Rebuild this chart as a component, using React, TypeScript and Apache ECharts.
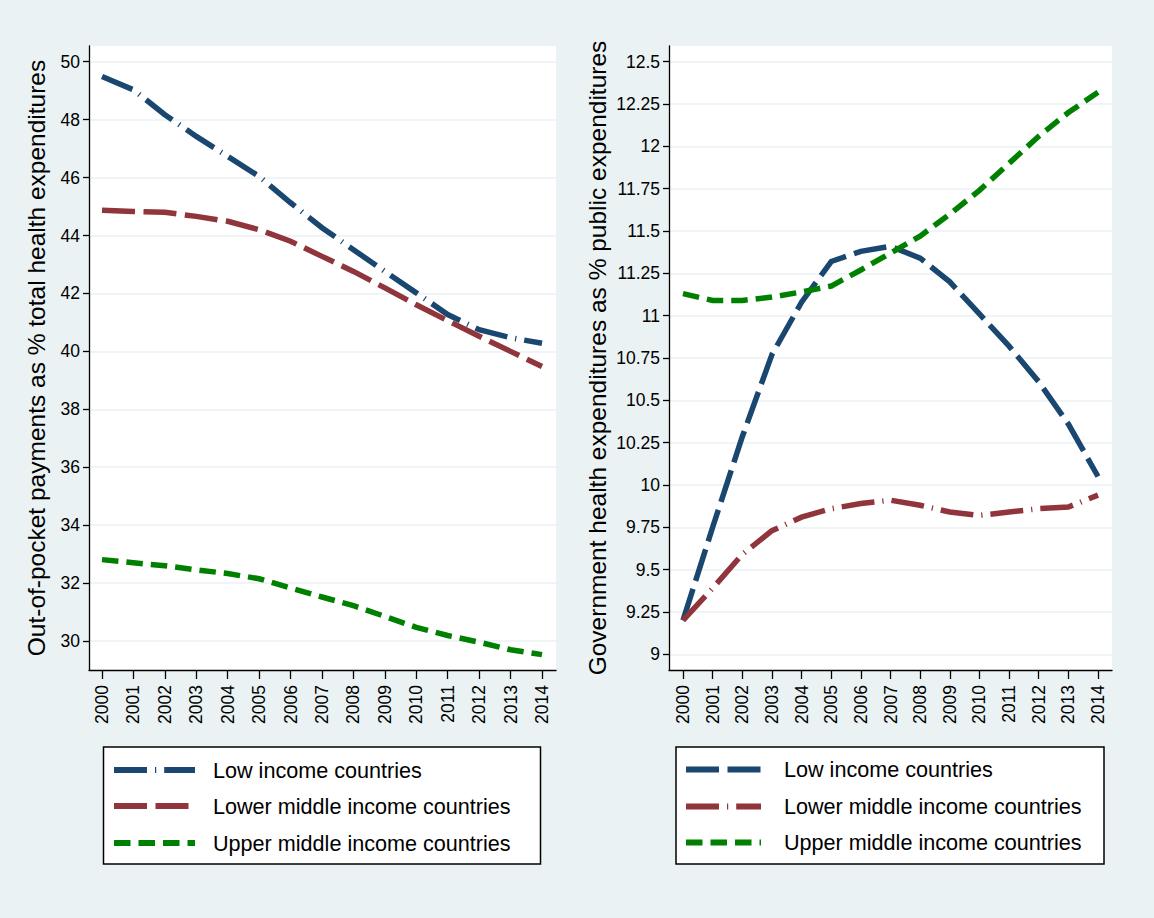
import React, { useEffect, useRef } from "react";
import * as echarts from "echarts";

const years = [2000, 2001, 2002, 2003, 2004, 2005, 2006, 2007, 2008, 2009, 2010, 2011, 2012, 2013, 2014];
const seriesNames = ["Low income countries", "Lower middle income countries", "Upper middle income countries"];

const oopLow = [49.49, 49.03, 48.17, 47.42, 46.73, 46.04, 45.13, 44.27, 43.51, 42.76, 42.02, 41.27, 40.75, 40.47, 40.28];
const oopLowerMid = [44.87, 44.83, 44.8, 44.66, 44.49, 44.2, 43.8, 43.28, 42.76, 42.19, 41.61, 41.06, 40.52, 40.0, 39.48];
const oopUpperMid = [32.81, 32.7, 32.6, 32.46, 32.33, 32.15, 31.83, 31.52, 31.22, 30.85, 30.47, 30.19, 29.96, 29.7, 29.53];

const govLow = [9.2, 9.75, 10.285, 10.77, 11.08, 11.32, 11.38, 11.41, 11.34, 11.2, 11.01, 10.82, 10.61, 10.36, 10.05];
const govLowerMid = [9.2, 9.39, 9.59, 9.73, 9.81, 9.86, 9.89, 9.91, 9.88, 9.84, 9.82, 9.84, 9.86, 9.87, 9.94];
const govUpperMid = [11.13, 11.09, 11.09, 11.11, 11.14, 11.175, 11.27, 11.37, 11.47, 11.6, 11.74, 11.9, 12.06, 12.2, 12.32];

const leftYTicks = [30, 32, 34, 36, 38, 40, 42, 44, 46, 48, 50];
const rightYTicks = [9, 9.25, 9.5, 9.75, 10, 10.25, 10.5, 10.75, 11, 11.25, 11.5, 11.75, 12, 12.25, 12.5];

const leftTitle = "Out-of-pocket payments as % total health expenditures";
const rightTitle = "Government health expenditures as % public expenditures";

const BLUE = "#1a476f";
const RED = "#90353b";
const GREEN = "#008000";
const BG = "#eaf2f3";
const FONT = "'Liberation Sans', Arial, Helvetica, sans-serif";

const LONG = [33, 8.5];
const LONG_DOT = [33, 8, 1.2, 8];
const SHORT = [16.5, 8];

const pairs = (vals: number[]) => years.map((y, i) => [y, vals[i]]);

export default function App() {
  const ref = useRef<HTMLDivElement>(null);
  useEffect(() => {
    if (!ref.current) return;
    const chart = echarts.init(ref.current, undefined, { renderer: "svg" });

    const xAxisBase = (gridIndex: number, min: number, max: number) => ({
      type: "value",
      gridIndex,
      min,
      max,
      axisLine: { show: true, onZero: false, lineStyle: { color: "#000", width: 1.3 } },
      axisTick: { show: true, length: 9, customValues: years, lineStyle: { color: "#000", width: 1.3 } },
      axisLabel: {
        customValues: years,
        rotate: 90,
        margin: 15,
        fontSize: 17.5,
        fontFamily: FONT,
        color: "#000",
        formatter: (v: number) => String(v),
      },
      splitLine: { show: false },
    });

    const yAxisBase = (gridIndex: number, min: number, max: number, ticks: number[], name: string, nameGap: number) => ({
      type: "value",
      gridIndex,
      min,
      max,
      name,
      nameLocation: "middle",
      nameGap,
      nameTextStyle: { fontSize: 24.5, fontFamily: FONT, color: "#000" },
      axisLine: { show: true, onZero: false, lineStyle: { color: "#000", width: 1.3 } },
      axisTick: { show: true, length: 6, customValues: ticks, lineStyle: { color: "#000", width: 1.3 } },
      axisLabel: {
        customValues: ticks,
        margin: 9,
        fontSize: 17.5,
        fontFamily: FONT,
        color: "#000",
        formatter: (v: number) => String(v),
      },
      splitLine: { show: true, lineStyle: { color: BG, width: 1.6 } },
    });

    const line = (name: string, xi: number, vals: number[], color: string, dash: number[]) => ({
      type: "line",
      name,
      xAxisIndex: xi,
      yAxisIndex: xi,
      data: pairs(vals),
      showSymbol: false,
      symbol: "none",
      lineStyle: { color, width: 5.5, type: dash, cap: "butt", join: "miter" },
      emphasis: { disabled: true },
    });

    const legendGroup = (
      boxX: number,
      boxW: number,
      sampleX1: number,
      sampleX2: number,
      textX: number,
      rowsY: number[],
      styles: { color: string; dash: number[] }[]
    ) => {
      const children: any[] = [
        {
          type: "rect",
          shape: { x: boxX, y: 747, width: boxW, height: 117 },
          style: { fill: "#fff", stroke: "#000", lineWidth: 1.5 },
        },
      ];
      seriesNames.forEach((n, i) => {
        children.push({
          type: "line",
          shape: { x1: sampleX1, y1: rowsY[i], x2: sampleX2, y2: rowsY[i] },
          style: { stroke: styles[i].color, lineWidth: 6, lineDash: styles[i].dash, lineCap: "butt" },
        });
        children.push({
          type: "text",
          x: textX,
          y: rowsY[i],
          style: {
            text: n,
            fontSize: 21.6,
            fontFamily: FONT,
            fill: "#000",
            verticalAlign: "middle",
            align: "left",
          },
        });
      });
      return { type: "group", children };
    };

    chart.setOption({
      animation: false,
      backgroundColor: BG,
      grid: [
        { left: 89, top: 46, width: 467, height: 624, show: true, backgroundColor: "#fff", borderWidth: 0 },
        { left: 669, top: 46, width: 443, height: 624, show: true, backgroundColor: "#fff", borderWidth: 0 },
      ],
      xAxis: [xAxisBase(0, 1999.586, 2014.4455), xAxisBase(1, 1999.5277, 2014.4723)],
      yAxis: [
        yAxisBase(0, 29.0, 50.542, leftYTicks, leftTitle, 40),
        yAxisBase(1, 8.907, 12.593, rightYTicks, rightTitle, 59),
      ],
      series: [
        line(seriesNames[0], 0, oopLow, BLUE, LONG_DOT),
        line(seriesNames[1], 0, oopLowerMid, RED, LONG),
        line(seriesNames[2], 0, oopUpperMid, GREEN, SHORT),
        line(seriesNames[0], 1, govLow, BLUE, LONG),
        line(seriesNames[1], 1, govLowerMid, RED, LONG_DOT),
        line(seriesNames[2], 1, govUpperMid, GREEN, SHORT),
      ],
      graphic: [
        legendGroup(103.5, 437, 114, 195, 213, [770, 806, 843], [
          { color: BLUE, dash: LONG_DOT },
          { color: RED, dash: LONG },
          { color: GREEN, dash: SHORT },
        ]),
        legendGroup(676, 428, 686, 761, 784, [769.5, 806.5, 842.5], [
          { color: BLUE, dash: LONG },
          { color: RED, dash: LONG_DOT },
          { color: GREEN, dash: SHORT },
        ]),
      ],
    });
    return () => chart.dispose();
  }, []);

  return (
    <div
      style={{ position: "fixed", left: 0, top: 0, width: 1154, height: 918, background: BG }}
    >
      <div ref={ref} style={{ width: 1154, height: 918 }} />
    </div>
  );
}
